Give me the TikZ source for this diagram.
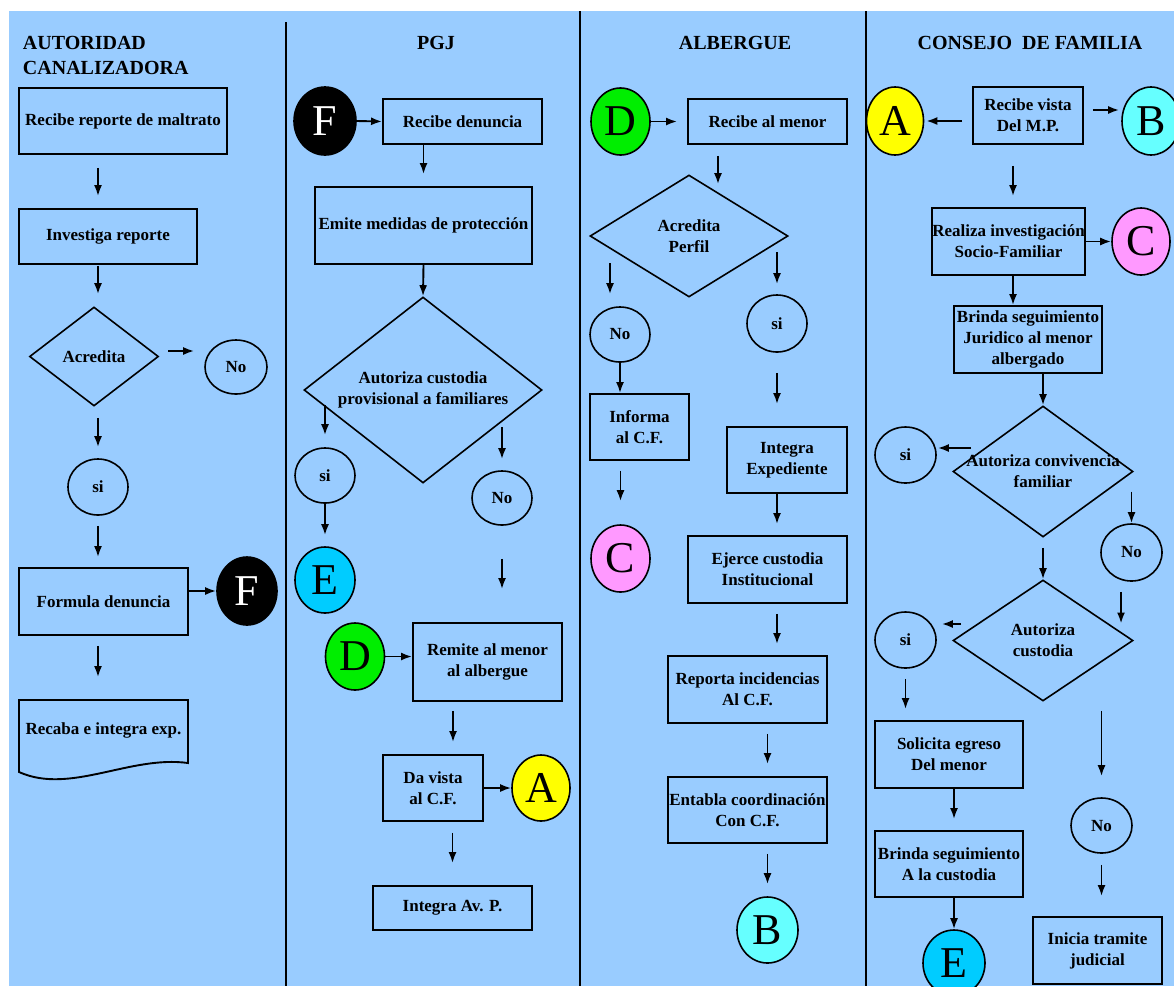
\documentclass[tikz,border=0pt]{standalone}
\usepackage{fontspec}
\setmainfont{Liberation Serif}
\usepackage{tikz}
\usetikzlibrary{shapes,arrows,arrows.meta}

\definecolor{laneblue}{RGB}{153,204,255}
\definecolor{linkA}{RGB}{255,255,0}
\definecolor{linkB}{RGB}{102,255,255}
\definecolor{linkC}{RGB}{255,153,255}
\definecolor{linkD}{RGB}{0,238,0}
\definecolor{linkE}{RGB}{0,204,255}

\begin{document}
\begin{tikzpicture}[x=1pt, y=-1pt, >={Latex[length=11pt,width=8pt]}, line width=1.9pt,
    wh/.style 2 args={minimum width=#1pt, minimum height=#2pt}]
    \tikzstyle{block} = [draw, rectangle, line width=1.9pt, inner sep=0pt,
    align=center, font=\fontsize{17}{21}\selectfont\bfseries]
    \tikzstyle{decision} = [draw, diamond, line width=1.6pt, inner sep=0pt]
    \tikzstyle{dtext} = [align=center, inner sep=0pt, font=\fontsize{17}{21}\selectfont\bfseries]
    \tikzstyle{answer} = [draw, ellipse, line width=1.6pt, inner sep=0pt, font=\fontsize{17}{21}\selectfont\bfseries]
    \tikzstyle{link} = [draw, ellipse, line width=1.6pt, inner sep=0pt, font=\fontsize{44}{44}\selectfont]
    \tikzstyle{lane} = [inner sep=0pt, font=\fontsize{20}{25}\selectfont\bfseries]

    \useasboundingbox (0,0) rectangle (1174,986);
    \fill [laneblue] (9,11) rectangle (1174,986);
    \draw [line width=2pt] (286,22) -- (286,986);
    \draw [line width=2pt] (580,11) -- (580,986);
    \draw [line width=2pt] (866,11) -- (866,986);

    \node [lane, anchor=west, align=left] (tac) at (22,55.5) {AUTORIDAD\\CANALIZADORA};
    \node [lane] (tpgj) at (436,43) {PGJ};
    \node [lane] (talb) at (735,43) {ALBERGUE};
    \node [lane] (tcf) at (1030,43) {CONSEJO\ \ DE FAMILIA};

    \node [block, wh={208}{66}] (rrm) at (123,121) {Recibe reporte de maltrato};
    \node [block, wh={178}{55}] (inv) at (108,236.5) {Investiga reporte};
    \node [decision, wh={129}{99}, label={[dtext]center:Acredita}] (acr) at (94,356.5) {};
    \node [answer, wh={62}{54}] (no1) at (236,367) {No};
    \node [answer, wh={60}{56}] (si1) at (98,487) {si};
    \node [block, wh={169}{67}] (fd) at (103.5,601.5) {Formula denuncia};
    \node [link, fill=black, text=white, wh={60}{68}] (f1) at (247,591) {F};
    \node [dtext, wh={169}{60}] (rie) at (103.5,730) {Recaba e integra exp.};
    \draw [line width=1.9pt] (19,772) -- (19,700) -- (188,700) -- (188,763)
        .. controls (130,755) and (70,795) .. (19,772) -- cycle;

    \draw [->, shorten <=13pt, shorten >=12pt] (rrm.south -| 98,0) -- (inv.north -| 98,0);
    \draw [->, shorten <=1pt, shorten >=12pt] (inv.south -| 98,0) -- (acr.north -| 98,0);
    \draw [->, shorten <=9pt, shorten >=10pt] (acr.east |- 0,351) -- (no1.west |- 0,351);
    \draw [->, shorten <=11pt, shorten >=11pt] (acr.south -| si1.north) -- (si1.north);
    \draw [->, shorten <=10pt, shorten >=10pt] (si1.south) -- (fd.north -| si1.south);
    \draw [->] (fd.east |- f1.west) -- (f1.west);
    \draw [->, shorten <=10pt, shorten >=22pt] (fd.south -| 98,0) -- (rie.north -| 98,0);

    \node [link, fill=black, text=white, wh={62}{68}] (f2) at (325,121) {F};
    \node [block, wh={159}{45}] (rd) at (462.5,121.5) {Recibe denuncia};
    \node [block, wh={217}{77}] (emp) at (423.5,225.5) {Emite medidas de protección};
    \node [decision, wh={238}{186}, label={[dtext]center:Autoriza custodia\\provisional a familiares}] (acp) at (423,390) {};
    \node [answer, wh={60}{55}] (si2) at (325,475.5) {si};
    \node [link, fill=linkE, wh={60}{66}] (e1) at (325,580) {E};
    \node [answer, wh={60}{54}] (no2) at (502,498) {No};
    \node [link, fill=linkD, wh={59}{67}] (d1) at (355,656.5) {D};
    \node [block, wh={149}{78}] (ram) at (487.5,662) {Remite al menor\\al albergue};
    \node [block, wh={100}{66}] (dv) at (433,788) {Da vista\\al C.F.};
    \node [link, fill=linkA, wh={58}{66}] (a1) at (541,788) {A};
    \node [block, wh={159}{44}] (iap) at (452.5,908) {Integra Av. P.};

    \draw [->] (f2.east) -- (rd.west);
    \draw [->, shorten >=12pt] (rd.south -| emp.north) -- (emp.north);
    \draw [->] (emp.south) -- (acp.north);
    \draw [->, shorten <=15pt, shorten >=12pt] (acp.west -| si2.north) -- (si2.north);
    \draw [->, shorten >=11pt] (si2.south) -- (e1.north);
    \draw [->, shorten <=37pt, shorten >=11pt] (acp.east -| no2.north) -- (no2.north);
    \draw [->, shorten <=33pt, shorten >=33pt] (no2.south) -- (ram.north -| no2.south);
    \draw [->] (d1.east) -- (ram.west |- d1.east);
    \draw [->, shorten <=9pt, shorten >=12pt] (ram.south -| 453,0) -- (dv.north -| 453,0);
    \draw [->] (dv.east) -- (a1.west);
    \draw [->, shorten <=11pt, shorten >=22pt] (dv.south -| iap.north) -- (iap.north);

    \node [link, fill=linkD, wh={59}{67}] (d2) at (620.5,121.5) {D};
    \node [block, wh={159}{45}] (ram2) at (767.5,121.5) {Recibe al menor};
    \node [decision, wh={198}{122}, label={[dtext]center:Acredita\\Perfil}] (ap) at (689,236) {};
    \node [answer, wh={60}{55}] (no3) at (620,334.5) {No};
    \node [block, wh={99}{66}] (inf) at (639.5,427) {Informa\\al C.F.};
    \node [link, fill=linkC, wh={59}{67}] (c1) at (620.5,558.5) {C};
    \node [answer, wh={60}{57}] (si3) at (777,323.5) {si};
    \node [block, wh={120}{66}] (ie) at (787,460) {Integra\\Expediente};
    \node [block, wh={159}{67}] (eci) at (767.5,569.5) {Ejerce custodia\\Institucional};
    \node [block, wh={159}{67}] (ric) at (747.5,689.5) {Reporta incidencias\\Al C.F.};
    \node [block, wh={159}{66}] (ecc) at (747.5,810) {Entabla coordinación\\Con C.F.};
    \node [link, fill=linkB, wh={61}{66}] (b1) at (767.5,930) {B};

    \draw [->, shorten >=10pt] (d2.east) -- (ram2.west |- d2.east);
    \draw [->, shorten <=11pt, shorten >=-10pt] (ram2.south -| 718,0) -- (ap.north -| 718,0);
    \draw [->, shorten <=27pt, shorten >=12pt] (ap.west -| 610,0) -- (no3.north -| 610,0);
    \draw [->, shorten <=16pt, shorten >=10pt] (ap.east -| si3.north) -- (si3.north);
    \draw [->] (no3.south) -- (inf.north -| no3.south);
    \draw [->, shorten <=10pt, shorten >=23pt] (inf.south -| c1.north) -- (c1.north);
    \draw [->, shorten <=20pt, shorten >=22pt] (si3.south) -- (ie.north -| si3.south);
    \draw [->, shorten >=11pt] (ie.south -| 777,0) -- (eci.north -| 777,0);
    \draw [->, shorten <=10pt, shorten >=11pt] (eci.south -| 777,0) -- (ric.north -| 777,0);
    \draw [->, shorten <=10pt, shorten >=12pt] (ric.south -| b1.north) -- (ecc.north -| b1.north);
    \draw [->, shorten <=10pt, shorten >=12pt] (ecc.south -| b1.north) -- (b1.north);

    \node [link, fill=linkA, wh={57}{68}] (a2) at (895,121) {A};
    \node [block, wh={110}{57}] (rvm) at (1028,115.5) {Recibe vista\\Del M.P.};
    \node [link, fill=linkB, wh={58}{68}] (b2) at (1151,121) {B};
    \node [block, wh={149}{67}] (rif) at (1008.5,241.5) {Realiza investigación\\Socio-Familiar};
    \node [link, fill=linkC, wh={58}{67}] (c2) at (1141,241.5) {C};
    \node [block, wh={148}{67}] (bsj) at (1028,339.5) {Brinda seguimiento\\Juridico al menor\\albergado};
    \node [decision, wh={180}{131}, label={[dtext]center:Autoriza convivencia\\familiar}] (acf) at (1043,471.5) {};
    \node [answer, wh={61}{56}] (si4) at (905.5,455) {si};
    \node [answer, wh={61}{57}] (no4) at (1131.5,552.5) {No};
    \node [decision, wh={180}{121}, label={[dtext]center:Autoriza\\custodia}] (acu) at (1043,640.5) {};
    \node [answer, wh={61}{56}] (si5) at (905.5,640) {si};
    \node [block, wh={148}{67}] (sem) at (949,754.5) {Solicita egreso\\Del menor};
    \node [block, wh={148}{66}] (bsc) at (949,864) {Brinda seguimiento\\A la custodia};
    \node [link, fill=linkE, wh={62}{66}] (e2) at (954,963) {E};
    \node [answer, wh={61}{55}] (no5) at (1101.5,825.5) {No};
    \node [block, wh={129}{67}] (itj) at (1097.5,950.5) {Inicia tramite\\judicial};

    \draw [->, shorten <=10pt, shorten >=2pt] (rvm.west |- a2.east) -- (a2.east);
    \draw [->, shorten <=9pt, shorten >=2pt] (rvm.east |- 0,110) -- (b2.west |- 0,110);
    \draw [->, shorten <=21pt, shorten >=11pt] (rvm.south -| 1013,0) -- (rif.north -| 1013,0);
    \draw [->] (rif.east) -- (c2.west);
    \draw [->] (rif.south -| 1013,0) -- (bsj.north -| 1013,0);
    \draw [->] (bsj.south -| acf.north) -- (acf.north);
    \draw [->, shorten <=-19pt, shorten >=1pt] (acf.west |- 0,448) -- (si4.east |- 0,448);
    \draw [->, shorten <=20pt] (acf.east -| no4.north) -- (no4.north);
    \draw [->, shorten <=10pt] (acf.south) -- (acu.north);
    \draw [->, shorten <=10pt, shorten >=17pt] (no4.south -| 1121,0) -- (acu.east -| 1121,0);
    \draw [->, shorten <=-9pt, shorten >=5pt] (acu.west |- 0,624) -- (si5.east |- 0,624);
    \draw [->, shorten <=10pt, shorten >=11pt] (si5.south) -- (sem.north -| si5.south);
    \draw [->, shorten >=11pt] (sem.south -| e2.north) -- (bsc.north -| e2.north);
    \draw [->] (bsc.south -| e2.north) -- (e2.north);
    \draw [->, shorten <=9pt, shorten >=21pt] (acu.south -| no5.north) -- (no5.north);
    \draw [->, shorten <=11pt, shorten >=20pt] (no5.south) -- (itj.north -| no5.south);
\end{tikzpicture}
\end{document}
